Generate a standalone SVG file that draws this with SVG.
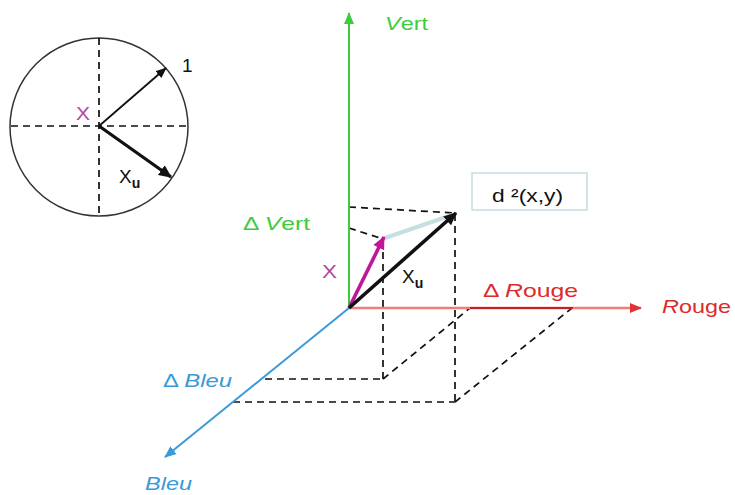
<svg xmlns="http://www.w3.org/2000/svg" width="735" height="495" viewBox="0 0 735 495">
<style>
text{font-family:"Liberation Sans",Arial,sans-serif;font-size:19px}
.dash{fill:none;stroke:#111;stroke-width:1.7;stroke-dasharray:7,5}
.g{fill:#3ccc3c}.r{fill:#dd2a2a}.b{fill:#3a9ad8}.m{fill:#b4479f}.k{fill:#111}
.it{font-style:italic}
</style>
<defs>
<marker id="ag" markerUnits="userSpaceOnUse" markerWidth="12" markerHeight="12" viewBox="0 0 12 12" refX="11" refY="6" orient="auto"><path d="M0,1 L12,6 L0,11 z" fill="#3ccc3c"/></marker>
<marker id="ar" markerUnits="userSpaceOnUse" markerWidth="12" markerHeight="12" viewBox="0 0 12 12" refX="11" refY="6" orient="auto"><path d="M0,1 L12,6 L0,11 z" fill="#e03434"/></marker>
<marker id="ab" markerUnits="userSpaceOnUse" markerWidth="12" markerHeight="12" viewBox="0 0 12 12" refX="11" refY="6" orient="auto"><path d="M0,1 L12,6 L0,11 z" fill="#3a9ad8"/></marker>
<marker id="am" markerUnits="userSpaceOnUse" markerWidth="13" markerHeight="13" viewBox="0 0 12 12" refX="11" refY="6" orient="auto"><path d="M0,0.5 L12,6 L0,11.5 z" fill="#c0179a"/></marker>
<marker id="ak" markerUnits="userSpaceOnUse" markerWidth="13" markerHeight="13" viewBox="0 0 12 12" refX="11" refY="6" orient="auto"><path d="M0,0.5 L12,6 L0,11.5 z" fill="#111"/></marker>
<marker id="ak2" markerUnits="userSpaceOnUse" markerWidth="11" markerHeight="11" viewBox="0 0 12 12" refX="11" refY="6" orient="auto"><path d="M0,1 L12,6 L0,11 z" fill="#111"/></marker>
</defs>
<rect width="735" height="495" fill="#fff"/>

<g id="inset">
<circle cx="99" cy="127" r="89" fill="none" stroke="#333" stroke-width="1.5"/>
<line class="dash" x1="11" y1="126" x2="189" y2="126"/>
<line class="dash" x1="99" y1="38" x2="99" y2="216"/>
<line x1="99" y1="126" x2="166" y2="68" stroke="#111" stroke-width="1.8" marker-end="url(#ak2)"/>
<line x1="99" y1="126" x2="171" y2="177" stroke="#111" stroke-width="3.2" marker-end="url(#ak)"/>
<text class="k" x="182" y="72" font-size="19">1</text>
<text class="m" x="76" y="120" font-size="21" textLength="14" lengthAdjust="spacingAndGlyphs">X</text>
<text class="k" x="119" y="183" font-size="21">X<tspan font-size="14" font-weight="bold" dy="5">u</tspan></text>
</g>

<g id="connectors">
<line class="dash" x1="349" y1="207" x2="455" y2="213"/>
<line class="dash" x1="349" y1="228" x2="383" y2="239"/>
<line class="dash" x1="383" y1="240" x2="383" y2="379"/>
<line class="dash" x1="455" y1="214" x2="455" y2="402"/>
<line class="dash" x1="265" y1="379" x2="383" y2="379"/>
<line class="dash" x1="233" y1="402" x2="455" y2="402"/>
<line class="dash" x1="383" y1="379" x2="470" y2="308"/>
<line class="dash" x1="455" y1="402" x2="572" y2="308"/>
</g>

<g id="axis-vert">
<line x1="349" y1="308" x2="349" y2="13" stroke="#3ccc3c" stroke-width="2" marker-end="url(#ag)"/>
</g>
<g id="axis-rouge">
<line x1="349" y1="308" x2="641" y2="308" stroke="#f07c7c" stroke-width="2.4" marker-end="url(#ar)"/>
<line x1="470" y1="308" x2="573" y2="308" stroke="#c42020" stroke-width="2"/>
</g>
<g id="axis-bleu">
<line x1="349" y1="308" x2="165" y2="457" stroke="#3a9ad8" stroke-width="2" marker-end="url(#ab)"/>
</g>

<g id="vectors">
<line x1="385" y1="238" x2="452" y2="215" stroke="#c6dfe3" stroke-width="4"/>
<line x1="349" y1="308" x2="384" y2="237" stroke="#c0179a" stroke-width="3.6" marker-end="url(#am)"/>
<line x1="349" y1="308" x2="456" y2="213" stroke="#111" stroke-width="3.6" marker-end="url(#ak)"/>
</g>

<g id="distance-box">
<rect x="472" y="173" width="115" height="37" fill="#fff" stroke="#c6dde2" stroke-width="1.5"/>
<text class="k" x="492" y="202" font-size="17" textLength="71" lengthAdjust="spacingAndGlyphs">d ²(x,y)</text>
</g>

<g id="labels">
<text class="g" x="385" y="30" font-size="20" textLength="43" lengthAdjust="spacingAndGlyphs"><tspan class="it">V</tspan>ert</text>
<text class="g" x="243" y="230" textLength="67" lengthAdjust="spacingAndGlyphs">Δ <tspan class="it">V</tspan>ert</text>
<text class="r" x="483" y="297" textLength="95" lengthAdjust="spacingAndGlyphs">Δ <tspan class="it">R</tspan>ouge</text>
<text class="r" x="662" y="313" textLength="69" lengthAdjust="spacingAndGlyphs"><tspan class="it">R</tspan>ouge</text>
<text class="b" x="163" y="387" textLength="69" lengthAdjust="spacingAndGlyphs">Δ <tspan class="it">Bleu</tspan></text>
<text class="b it" x="145" y="490" textLength="47" lengthAdjust="spacingAndGlyphs">Bleu</text>
<text class="m" x="322" y="278" font-size="21" textLength="15" lengthAdjust="spacingAndGlyphs">X</text>
<text class="k" x="402" y="283" font-size="21">X<tspan font-size="14" font-weight="bold" dy="5">u</tspan></text>
</g>
</svg>
